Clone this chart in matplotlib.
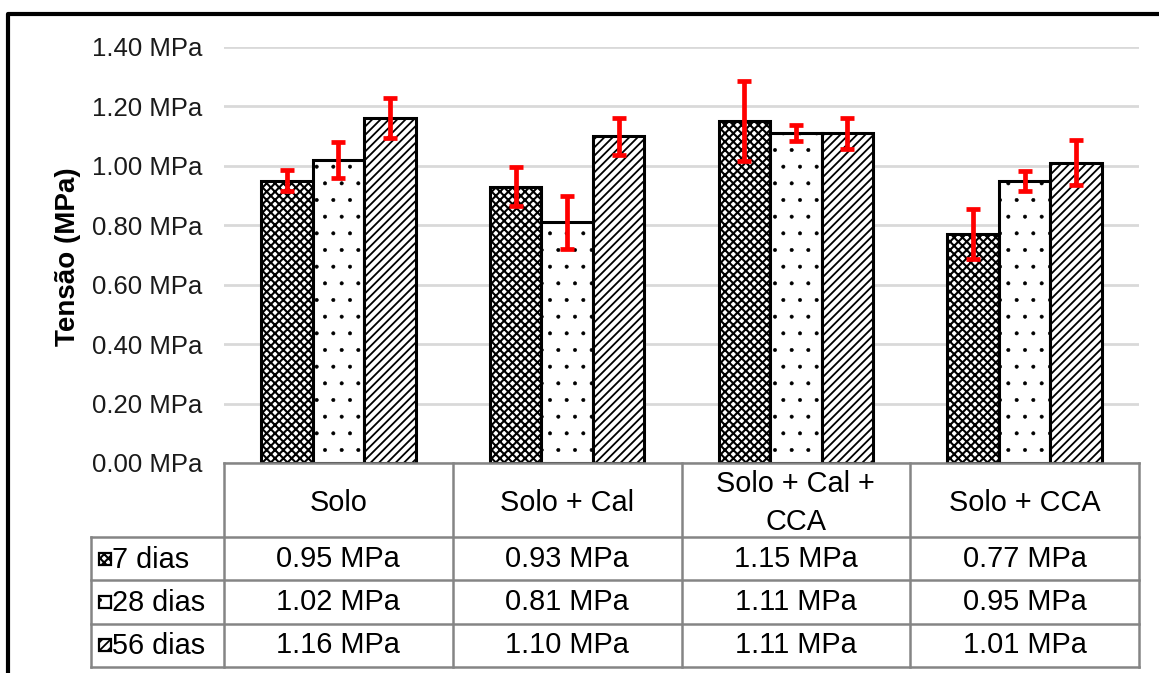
import numpy as np
import matplotlib
matplotlib.use('Agg')
import matplotlib.pyplot as plt
from matplotlib.patches import Rectangle
from matplotlib.lines import Line2D

# ---------------- data ----------------
categories = ['Solo', 'Solo + Cal', 'Solo + Cal +\nCCA', 'Solo + CCA']
series = ['7 dias', '28 dias', '56 dias']
dias_7 = [0.95, 0.93, 1.15, 0.77]
dias_28 = [1.02, 0.81, 1.11, 0.95]
dias_56 = [1.16, 1.10, 1.11, 1.01]
err_7 = [0.035, 0.065, 0.135, 0.085]
err_28 = [0.060, 0.090, 0.026, 0.034]
err_56 = [0.067, 0.062, 0.052, 0.076]
yticks = [0.0, 0.2, 0.4, 0.6, 0.8, 1.0, 1.2, 1.4]

hatches = ['xxxx', '.', '////']
hatch_lw = [1.5, 0.4, 1.3]

plt.rcParams['font.family'] = ['Liberation Sans', 'DejaVu Sans']
plt.rcParams['hatch.linewidth'] = 1.0
plt.rcParams['hatch.color'] = 'black'


def set_hatch_lw(patch, lw):
    # per-artist hatch width (matplotlib >= 3.10)
    if hasattr(patch, 'set_hatch_linewidth'):
        patch.set_hatch_linewidth(lw)


W, H = 1159, 673
fig = plt.figure(figsize=(W / 100, H / 100), dpi=100)

# -------------- bar area --------------------------------------------
ax = fig.add_axes([224 / W, 1 - 463 / H, (1139 - 224) / W, (463 - 47) / H])
x = np.arange(len(categories))
width = 0.225
values = [dias_7, dias_28, dias_56]
errors = [err_7, err_28, err_56]
for k in range(3):
    bars = ax.bar(x + (k - 1) * width, values[k], width, facecolor='white', edgecolor='black',
                  linewidth=2.2, hatch=hatches[k], yerr=errors[k],
                  error_kw=dict(ecolor='red', elinewidth=3.4, capsize=5, capthick=3.4))
    for b in bars:
        set_hatch_lw(b, hatch_lw[k])

ax.set_xlim(-0.5, 3.5)
ax.set_ylim(0, 1.4)
ax.set_yticks(yticks)
ax.set_yticklabels([f'{t:.2f} MPa' for t in yticks])
ax.set_xticks([])
ax.tick_params(axis='y', length=0, pad=15.8, labelsize=18.5, labelcolor='#1a1a1a')
for s in ax.spines.values():
    s.set_visible(False)
ax.yaxis.grid(True, color='#d9d9d9', linewidth=2)
ax.set_axisbelow(True)

fig.text(68 / W, 1 - 257 / H, 'Tensão (MPa)', rotation=90, ha='center', va='center',
         fontsize=20, fontweight='bold', color='black')

# -------------- data table under the bars ---------------------------
row_h = 43.3
head_h = 74 / row_h
unit = (1139 - 224) / 4
xl = -0.5 - (224 - 91) / unit
tab = fig.add_axes([91 / W, 1 - 667 / H, (1139 - 91) / W, (667 - 463) / H])
tab.set_xlim(xl, 3.5)
tab.set_ylim(head_h + 3, 0)
tab.axis('off')

grey = '#858585'
bottom = head_h + 3
tab.plot([-0.5, 3.5], [0, 0], color=grey, lw=1.8, clip_on=False)
for r in range(4):
    tab.plot([xl, 3.5], [head_h + r, head_h + r], color=grey, lw=1.8, clip_on=False)
for i in range(5):
    tab.plot([i - 0.5, i - 0.5], [0, bottom], color=grey, lw=1.8, clip_on=False)
tab.plot([xl, xl], [head_h, bottom], color=grey, lw=1.8, clip_on=False)

for i, cat in enumerate(categories):
    tab.text(i, head_h / 2 + 0.07, cat, ha='center', va='center', fontsize=20.8, linespacing=1.45)

for r, name in enumerate(series):
    yc = head_h + r + 0.5
    for i, v in enumerate(values[r]):
        tab.text(i, yc, f'{v:.2f} MPa', ha='center', va='center', fontsize=20.8)
    tab.text(xl + 21 / unit, yc + 0.02, name, ha='left', va='center', fontsize=20.8)
    kh = 12 / row_h
    key = Rectangle((xl + 8 / unit, yc - kh / 2), 12 / unit, kh, facecolor='white',
                    edgecolor='black', lw=1.6, hatch=hatches[r], clip_on=False)
    set_hatch_lw(key, hatch_lw[r])
    tab.add_patch(key)

# frame around the picture
fig.add_artist(Line2D([8 / W, 8 / W, 1.0], [0, 1 - 14 / H, 1 - 14 / H],
                      transform=fig.transFigure, color='black', lw=3))

fig.savefig('out.png', dpi=100)
